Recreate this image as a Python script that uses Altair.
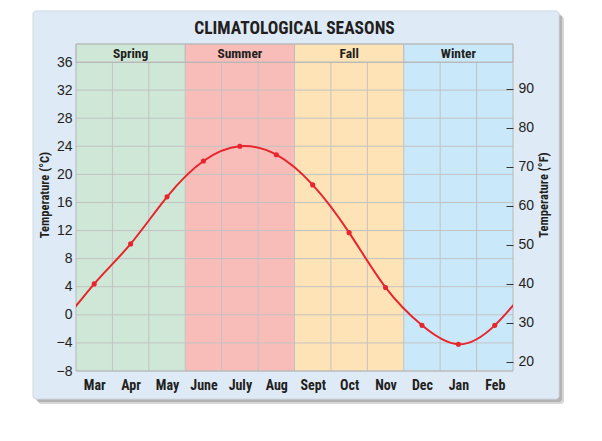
import altair as alt
import pandas as pd

# ---------------- data ----------------
chart_title = "CLIMATOLOGICAL SEASONS"
y_title_c = "Temperature (°C)"
y_title_f = "Temperature (°F)"
months = ["Mar", "Apr", "May", "June", "July", "Aug",
          "Sept", "Oct", "Nov", "Dec", "Jan", "Feb"]
temps_c = [4.4, 10.1, 16.8, 21.9, 24.0, 22.8, 18.5, 11.7, 3.9, -1.5, -4.2, -1.5]
seasons = ["Spring", "Summer", "Fall", "Winter"]
season_start = [0, 3, 6, 9]
season_end = [3, 6, 9, 12]
season_colors = ["#cfe7d6", "#f8bdb9", "#fee3b7", "#c9e9fb"]
c_ticks = [-8, -4, 0, 4, 8, 12, 16, 20, 24, 28, 32, 36]
f_ticks = [20, 30, 40, 50, 60, 70, 80, 90]
c_domain = [-8, 36]

# ---------------- layout / style ----------------
W, H = 437, 309
HEADER = 18
RED = "#e8242c"
INK = "#231f20"
COND = "Roboto Condensed, Liberation Sans Narrow, Roboto, sans-serif"
SANS = "Liberation Sans, Arial, sans-serif"
GRID = "#c2c2c2"

n = len(months)
pts_df = pd.DataFrame({"pos": [i + 0.5 for i in range(n)], "temp": temps_c, "month": months})
line_df = pd.DataFrame({
    "pos": [i + 0.5 for i in range(-2, n + 2)],
    "temp": [temps_c[i % n] for i in range(-2, n + 2)],
})
season_df = pd.DataFrame({
    "name": seasons, "start": season_start, "end": season_end,
    "mid": [(a + b) / 2 for a, b in zip(season_start, season_end)],
})
vgrid_df = pd.DataFrame({"x": list(range(1, n))})
hgrid_df = pd.DataFrame({"y": c_ticks})
top_df = pd.DataFrame({"y": [c_domain[1]]})
f_df = pd.DataFrame({"f": f_ticks})
xlab_df = pd.DataFrame({"pos": [i + 0.5 for i in range(n)], "month": months})
dummy = pd.DataFrame({"k": [0]})


def xs():
    return alt.Scale(domain=[0, n], nice=False, zero=False)


def ys():
    return alt.Scale(domain=c_domain, nice=False, zero=False)


color_scale = alt.Scale(domain=seasons, range=season_colors)
label_expr = "[" + ",".join("'%s'" % m for m in months) + "][floor(datum.value)]"

# panel background + shadow
PL, PR, PT, PB = -43, 483, -51, 337
shadow1 = alt.Chart(dummy).mark_rect(fill="#8a8a8a", opacity=0.35, cornerRadius=3).encode(
    x=alt.value(PL + 5), x2=alt.value(PR + 5), y=alt.value(PT + 5), y2=alt.value(PB + 5))
shadow2 = alt.Chart(dummy).mark_rect(fill="#8a8a8a", opacity=0.45, cornerRadius=3).encode(
    x=alt.value(PL + 3), x2=alt.value(PR + 3), y=alt.value(PT + 3), y2=alt.value(PB + 3))
panel = alt.Chart(dummy).mark_rect(fill="#dfeaf7", stroke="#cfd8e2", strokeWidth=1, cornerRadius=3).encode(
    x=alt.value(PL), x2=alt.value(PR), y=alt.value(PT), y2=alt.value(PB))

season_bg = alt.Chart(season_df).mark_rect().encode(
    x=alt.X("start:Q", scale=xs(), axis=None), x2="end:Q",
    y=alt.value(0), y2=alt.value(H),
    color=alt.Color("name:N", scale=color_scale, legend=None))
header = alt.Chart(season_df).mark_rect(stroke="#bdbdbd", strokeWidth=1).encode(
    x=alt.X("start:Q", scale=xs(), axis=None), x2="end:Q",
    y=alt.value(-HEADER), y2=alt.value(0),
    color=alt.Color("name:N", scale=color_scale, legend=None))
season_text = alt.Chart(season_df).mark_text(
    font=COND, fontWeight="bold", fontSize=13.5, color=INK, baseline="alphabetic").encode(
    x=alt.X("mid:Q", scale=xs(), axis=None), y=alt.value(-4.5), text="name:N")

vgrid = alt.Chart(vgrid_df).mark_rule(color=GRID, strokeWidth=1).encode(
    x=alt.X("x:Q", scale=xs(), axis=None), y=alt.value(0), y2=alt.value(H))
hgrid = alt.Chart(hgrid_df).mark_rule(color=GRID, strokeWidth=1).encode(
    y=alt.Y("y:Q", scale=ys(), axis=None), x=alt.value(0), x2=alt.value(W))
top_rule = alt.Chart(top_df).mark_rule(color="#9a9a9a", strokeWidth=1).encode(
    y=alt.Y("y:Q", scale=ys(), axis=None), x=alt.value(0), x2=alt.value(W))
border = alt.Chart(dummy).mark_rect(fillOpacity=0, stroke="#b8b8b8", strokeWidth=1).encode(
    x=alt.value(0), x2=alt.value(W), y=alt.value(-HEADER), y2=alt.value(H))

line = alt.Chart(line_df).mark_line(color=RED, strokeWidth=2, interpolate="natural", clip=True).encode(
    x=alt.X("pos:Q", scale=xs(), axis=None),
    y=alt.Y("temp:Q", scale=ys(), axis=None))
points = alt.Chart(pts_df).mark_point(filled=True, shape="circle", size=26, color=RED, opacity=1).encode(
    x=alt.X("pos:Q", scale=xs(), axis=None), y=alt.Y("temp:Q", scale=ys(), axis=None))

title = alt.Chart(pd.DataFrame({"t": [chart_title]})).mark_text(
    font=COND, fontWeight="bold", fontSize=17.5, color=INK, baseline="alphabetic", align="center").encode(
    x=alt.value(W / 2), y=alt.value(-28), text="t:N")
ytl = alt.Chart(pd.DataFrame({"t": [y_title_c]})).mark_text(
    font=COND, fontWeight="bold", fontSize=12.5, color=INK, angle=270, baseline="middle", align="center").encode(
    x=alt.value(-31), y=alt.value(133), text="t:N")
ytr = alt.Chart(pd.DataFrame({"t": [y_title_f]})).mark_text(
    font=COND, fontWeight="bold", fontSize=12.5, color=INK, angle=270, baseline="middle", align="center").encode(
    x=alt.value(468), y=alt.value(133), text="t:N")

# axis-carrying transparent layers
x_axis_layer = alt.Chart(xlab_df).mark_point(opacity=0).encode(
    x=alt.X("pos:Q", scale=xs(), axis=alt.Axis(
        orient="bottom", values=[i + 0.5 for i in range(n)], labelExpr=label_expr, grid=False,
        domain=False, ticks=False, labelPadding=7, labelFont=COND, labelFontWeight="bold",
        labelFontSize=14, labelColor=INK, title=None, zindex=2)),
    y=alt.value(H))
c_axis_layer = alt.Chart(hgrid_df).mark_point(opacity=0).encode(
    y=alt.Y("y:Q", scale=ys(), axis=alt.Axis(
        orient="left", values=c_ticks, grid=False, domain=False, ticks=False, labelPadding=4,
        zindex=2, labelFont=SANS, labelFontSize=14, labelColor=INK, title=None)),
    x=alt.value(0))
f_axis_layer = alt.Chart(f_df).mark_point(opacity=0).encode(
    y=alt.Y("f:Q", scale=alt.Scale(domain=[c * 1.8 + 32 for c in c_domain], nice=False, zero=False),
            axis=alt.Axis(orient="right", values=f_ticks, offset=-7, tickSize=7, tickColor="#333333",
                          tickWidth=1, domain=False, grid=False, labelPadding=5, title=None, zindex=2,
                          labelFont=SANS, labelFontSize=14, labelColor=INK)),
    x=alt.value(W))

chart = alt.layer(
    shadow1, shadow2, panel, season_bg, vgrid, hgrid, top_rule, header,
    season_text, border, line, points, title, ytl, ytr,
    x_axis_layer, c_axis_layer, f_axis_layer,
).resolve_scale(x="independent", y="independent").properties(
    width=W, height=H,
    padding={"left": 24, "top": 2, "right": 10, "bottom": 10},
    background="white",
).configure_view(stroke=None)

chart.save("out.html", embed_options={"renderer": "svg", "actions": False})
